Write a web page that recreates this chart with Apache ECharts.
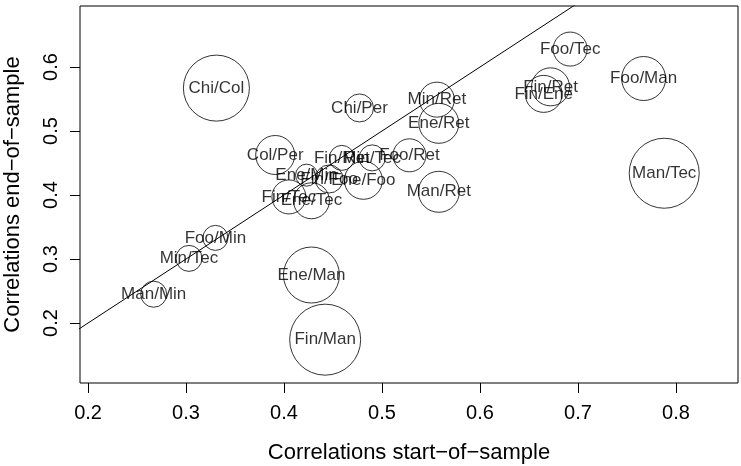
<!DOCTYPE html>
<html>
<head>
<meta charset="utf-8">
<script src="https://cdn.jsdelivr.net/npm/echarts@6/dist/echarts.min.js"></script>
<style>
  html, body { margin: 0; padding: 0; background: #fff; }
  #main { width: 741px; height: 466px; }
</style>
</head>
<body>
<div id="main"></div>
<script>
// pair names
var pairs = ['Chi/Col', 'Chi/Per', 'Col/Per', 'Fin/Min', 'Ret/Tec', 'Foo/Ret', 'Ene/Foo', 'Man/Ret',
  'Min/Ret', 'Ene/Ret', 'Fin/Ret', 'Fin/Ene', 'Foo/Tec', 'Foo/Man', 'Man/Tec', 'Fin/Tec',
  'Ene/Tec', 'Foo/Min', 'Min/Tec', 'Man/Min', 'Ene/Man', 'Fin/Man', 'Ene/Min', 'Fin/Foo'];
// correlations start-of-sample (x)
var startCorr = [0.331, 0.477, 0.391, 0.459, 0.490, 0.528, 0.481, 0.558,
  0.556, 0.558, 0.672, 0.665, 0.692, 0.767, 0.788, 0.405,
  0.428, 0.330, 0.303, 0.267, 0.428, 0.442, 0.423, 0.446];
// correlations end-of-sample (y)
var endCorr = [0.567, 0.536, 0.4625, 0.458, 0.458, 0.462, 0.423, 0.405,
  0.549, 0.512, 0.569, 0.558, 0.628, 0.582, 0.434, 0.397,
  0.391, 0.333, 0.301, 0.245, 0.275, 0.174, 0.431, 0.425];
// bubble weight (relative circle radius)
var weight = [3.3, 1.4, 1.95, 1.25, 1.3, 1.65, 1.9, 2.05,
  1.75, 2.0, 1.9, 1.85, 1.7, 2.2, 3.5, 1.7,
  1.8, 1.25, 1.3, 1.3, 2.8, 3.55, 1.1, 1.4];
var xTicks = [0.2, 0.3, 0.4, 0.5, 0.6, 0.7, 0.8];
var yTicks = [0.2, 0.3, 0.4, 0.5, 0.6];
// abline(0, 1)
var ablineIntercept = 0;
var ablineSlope = 1;

var xMin = 0.1918, xMax = 0.8633;
var yMin = 0.1063, yMax = 0.6953;

var pts = pairs.map(function (p, i) {
  return { name: p, value: [startCorr[i], endCorr[i], weight[i]] };
});
var lineData = [[0, ablineIntercept], [1, ablineIntercept + ablineSlope]];

var font = 'Liberation Sans, Arial, Helvetica, sans-serif';
var myChart = echarts.init(document.getElementById('main'));
myChart.setOption({
  animation: false,
  grid: {
    left: 80, right: 3, top: 6, bottom: 83,
    containLabel: false, outerBoundsMode: 'none',
    show: true, borderColor: '#000', borderWidth: 1, backgroundColor: 'transparent'
  },
  xAxis: {
    type: 'value', min: xMin, max: xMax,
    name: 'Correlations start\u2212of\u2212sample',
    nameLocation: 'middle', nameGap: 59,
    nameTextStyle: { color: '#000', fontSize: 22, fontFamily: font },
    axisLine: { show: false },
    splitLine: { show: false },
    axisTick: { show: true, length: 10, customValues: xTicks, lineStyle: { color: '#000' } },
    axisLabel: {
      customValues: xTicks, margin: 20, color: '#000', fontSize: 20, fontFamily: font,
      formatter: function (v) { return v.toFixed(1); }
    }
  },
  yAxis: {
    type: 'value', min: yMin, max: yMax,
    name: 'Correlations end\u2212of\u2212sample',
    nameLocation: 'middle', nameGap: 56,
    nameTextStyle: { color: '#000', fontSize: 22, fontFamily: font },
    axisLine: { show: false },
    splitLine: { show: false },
    axisTick: { show: true, length: 10, customValues: yTicks, lineStyle: { color: '#000' } },
    axisLabel: {
      customValues: yTicks, margin: 19, rotate: 90, color: '#000', fontSize: 20, fontFamily: font,
      formatter: function (v) { return v.toFixed(1); }
    }
  },
  series: [
    {
      type: 'line',
      data: lineData,
      clip: true,
      symbol: 'none',
      lineStyle: { color: '#000', width: 1 },
      silent: true
    },
    {
      type: 'scatter',
      data: pts,
      symbol: 'circle',
      symbolSize: function (v) { return v[2] * 20; },
      itemStyle: { color: 'rgba(0,0,0,0)', borderColor: '#000', borderWidth: 1 },
      label: {
        show: true, position: 'inside', color: '#000', fontSize: 17, fontFamily: font,
        formatter: function (p) { return p.name; }
      },
      labelLayout: { hideOverlap: false }
    }
  ]
});
</script>
</body>
</html>
